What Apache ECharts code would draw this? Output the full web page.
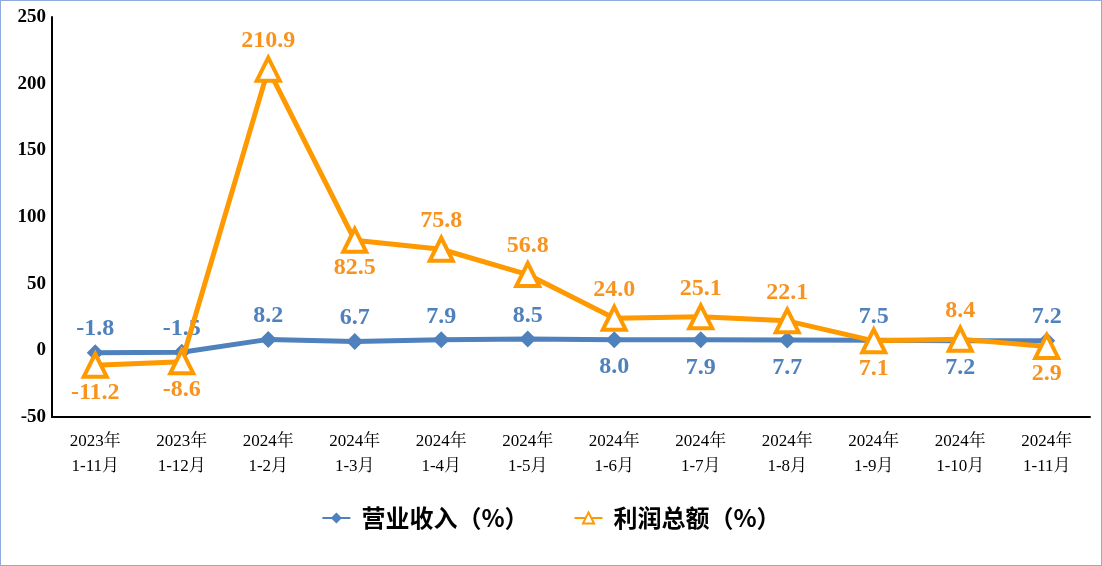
<!DOCTYPE html>
<html><head><meta charset="utf-8">
<script src="https://cdn.jsdelivr.net/npm/echarts@6/dist/echarts.min.js"></script>
<style>html,body{margin:0;padding:0;background:#fff}
#wrap{position:absolute;left:0;top:0;width:1100px;height:564px;border:1px solid #8FAADC}
#c{width:1100px;height:564px}</style>
</head><body><div id="wrap"><div id="c"></div></div>
<script>
const categories = ['2023年\n1-11月','2023年\n1-12月','2024年\n1-2月','2024年\n1-3月','2024年\n1-4月','2024年\n1-5月','2024年\n1-6月','2024年\n1-7月','2024年\n1-8月','2024年\n1-9月','2024年\n1-10月','2024年\n1-11月'];
const revenue = [-1.8,-1.5,8.2,6.7,7.9,8.5,8.0,7.9,7.7,7.5,7.2,7.2];
const profit = [-11.2,-8.6,210.9,82.5,75.8,56.8,24.0,25.1,22.1,7.1,8.4,2.9];
const revenueLabelPos = ['top','top','top','top','top','top','bottom','bottom','bottom','top','bottom','top'];
const profitLabelPos = ['bottom','bottom','top','bottom','top','top','top','top','top','bottom','top','bottom'];
const yTicks = {min:-50,max:250,interval:50};

const serif = '"Liberation Serif","Times New Roman","Noto Serif CJK SC","Noto Sans CJK SC",serif';
const chart = echarts.init(document.getElementById('c'));
function lbl(color,pos,bd){return {show:true,position:pos,distance:pos==='top'?3:bd,color:color,fontFamily:serif,fontWeight:'bold',fontSize:24,formatter:p=>p.value.toFixed(1)};}
chart.setOption({
  animation:false,
  grid:{left:51,right:11,top:16,bottom:148},
  legend:{top:500,left:'center',itemWidth:28,itemHeight:14,itemGap:45,
    textStyle:{fontSize:24,fontWeight:'bold',color:'#000',fontFamily:'"Noto Sans CJK SC",sans-serif',padding:[0,0,0,6]},
    data:['营业收入（%）','利润总额（%）']},
  xAxis:{type:'category',data:categories,boundaryGap:true,
    axisLine:{onZero:false,lineStyle:{color:'#000',width:2}},axisTick:{show:false},
    axisLabel:{color:'#000',fontSize:17,lineHeight:25,margin:12,fontFamily:serif}},
  yAxis:{type:'value',min:yTicks.min,max:yTicks.max,interval:yTicks.interval,
    splitLine:{show:false},axisLine:{show:true,lineStyle:{color:'#000',width:2}},axisTick:{show:false},
    axisLabel:{color:'#000',fontSize:19,fontWeight:'bold',fontFamily:serif,margin:6}},
  series:[
    {name:'营业收入（%）',type:'line',data:revenue.map((v,i)=>({value:v,label:lbl('#4F81BD',revenueLabelPos[i],7)})),
      symbol:'diamond',symbolSize:17,itemStyle:{color:'#4F81BD'},lineStyle:{color:'#4F81BD',width:5},z:2},
    {name:'利润总额（%）',type:'line',data:profit.map((v,i)=>({value:v,label:lbl('#F7931E',profitLabelPos[i],2)})),
      symbol:'triangle',symbolSize:23,itemStyle:{color:'#fff',borderColor:'#FF9900',borderWidth:4},
      lineStyle:{color:'#FF9900',width:5},z:3}
  ]
});
</script></body></html>
